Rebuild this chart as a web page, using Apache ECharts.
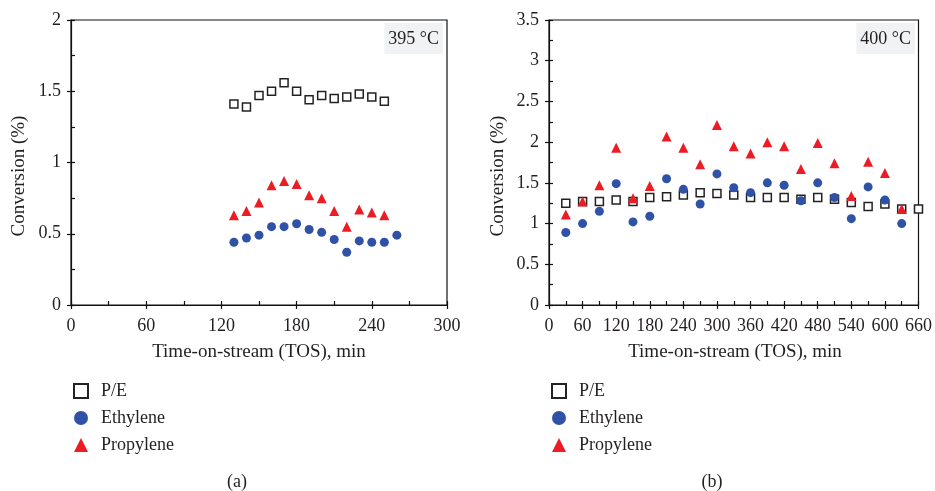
<!DOCTYPE html>
<html>
<head>
<meta charset="utf-8">
<script src="https://cdn.jsdelivr.net/npm/echarts@6/dist/echarts.min.js"></script>
<style>html,body{margin:0;padding:0;background:#fff}#c{width:935px;height:491px}</style>
</head>
<body>
<div id="c"></div>
<script>
// ---- Data: panel (a) 395 °C ----
var tosA_PE = [130,140,150,160,170,180,190,200,210,220,230,240,250];
var peA = [1.41,1.39,1.47,1.50,1.56,1.50,1.44,1.47,1.45,1.46,1.48,1.46,1.43];
var tosA_Eth = [130,140,150,160,170,180,190,200,210,220,230,240,250,260];
var ethA = [0.44,0.47,0.49,0.55,0.55,0.57,0.53,0.51,0.46,0.37,0.45,0.44,0.44,0.49];
var tosA_Pro = [130,140,150,160,170,180,190,200,210,220,230,240,250];
var proA = [0.63,0.66,0.72,0.84,0.87,0.85,0.77,0.75,0.66,0.55,0.67,0.65,0.63];

// ---- Data: panel (b) 400 °C ----
var tosB_PE = [30,60,90,120,150,180,210,240,270,300,330,360,390,420,450,480,510,540,570,600,630,660];
var peB = [1.25,1.27,1.27,1.29,1.27,1.32,1.33,1.35,1.38,1.37,1.35,1.32,1.32,1.32,1.30,1.32,1.30,1.26,1.21,1.24,1.18,1.18];
var tosB_Eth = [30,60,90,120,150,180,210,240,270,300,330,360,390,420,450,480,510,540,570,600,630];
var ethB = [0.89,1.00,1.15,1.49,1.02,1.09,1.55,1.42,1.24,1.61,1.44,1.38,1.50,1.47,1.28,1.50,1.32,1.06,1.45,1.29,1.00];
var tosB_Pro = [30,60,90,120,150,180,210,240,270,300,330,360,390,420,450,480,510,540,570,600,630];
var proB = [1.11,1.27,1.47,1.93,1.31,1.46,2.07,1.93,1.73,2.21,1.95,1.86,2.00,1.95,1.67,1.99,1.74,1.34,1.76,1.62,1.18];

var seriesNames = ['P/E','Ethylene','Propylene'];
var panelLabels = ['(a)','(b)'];
var tempLabels = ['395 °C','400 °C'];
var xTitle = 'Time-on-stream (TOS), min';
var yTitle = 'Conversion (%)';

function pairs(xs, ys){ return ys.map(function(v,i){ return [xs[i], v]; }); }

var FONT = '"Liberation Serif", "DejaVu Serif", serif';
var TXT = '#231f20';
var BLUE = '#2f52a6';
var RED = '#ec1c24';

function labelAxis(gi, min, max, interval, pos){
  return {
    type:'value', gridIndex:gi, position:pos, min:min, max:max, interval:interval,
    axisLine:{show:true, lineStyle:{color:'#111', width:1.2}},
    axisTick:{show:true, inside:false, length:4, lineStyle:{color:'#111', width:1.2}},
    minorTick:{show:false},
    splitLine:{show:false},
    axisLabel:{fontFamily:FONT, fontSize:18, color:TXT, margin:pos === 'bottom' ? 12 : 10}
  };
}
function innerAxis(gi, min, max, interval, pos){
  return {
    type:'value', gridIndex:gi, position:pos, min:min, max:max, interval:interval,
    axisLine:{show:false},
    axisTick:{show:true, inside:true, length:4, lineStyle:{color:'#111', width:1.2}},
    minorTick:{show:true, splitNumber:2, length:4, lineStyle:{color:'#111', width:1.2}},
    splitLine:{show:false}, axisLabel:{show:false}
  };
}

function sq(xi, yi, data, size){
  return {type:'scatter', name:'P/E', xAxisIndex:xi, yAxisIndex:yi, data:data,
    symbol:'rect', symbolSize:size, itemStyle:{color:'#fff', borderColor:'#222', borderWidth:1.5, opacity:1}, z:3};
}
function ci(xi, yi, data, size){
  return {type:'scatter', name:'Ethylene', xAxisIndex:xi, yAxisIndex:yi, data:data,
    symbol:'circle', symbolSize:size, itemStyle:{color:BLUE, opacity:1}, z:4};
}
function tr(xi, yi, data, size){
  return {type:'scatter', name:'Propylene', xAxisIndex:xi, yAxisIndex:yi, data:data,
    symbol:'triangle', symbolSize:size, itemStyle:{color:RED, opacity:1}, z:5};
}

function legendAt(left){
  return {orient:'vertical', left:left, top:377, itemWidth:14, itemHeight:14, itemGap:9,
    data:seriesNames, selectedMode:false,
    textStyle:{fontFamily:FONT, fontSize:18, color:TXT, padding:[0,0,0,8]}};
}

var chart = echarts.init(document.getElementById('c'), null, {renderer:'canvas'});
var option = {
  animation:false,
  backgroundColor:'#fff',
  grid:[
    {left:71, top:20, width:376, height:285, show:true, borderColor:'#111', borderWidth:1.2, backgroundColor:'transparent'},
    {left:549, top:20, width:372, height:285, show:true, borderColor:'#111', borderWidth:1.2, backgroundColor:'transparent'}
  ],
  xAxis:[
    labelAxis(0,0,300,60,'bottom'),
    innerAxis(0,0,300,60,'bottom'),
    labelAxis(1,0,660,60,'bottom'),
    innerAxis(1,0,660,60,'bottom')
  ],
  yAxis:[
    labelAxis(0,0,2,0.5,'left'),
    innerAxis(0,0,2,0.5,'left'),
    labelAxis(1,0,3.5,0.5,'left'),
    innerAxis(1,0,3.5,0.5,'left')
  ],
  legend:[legendAt(68), legendAt(546)],
  title:[
    {text:tempLabels[0], right:492, top:23, padding:[7,4,6,4], backgroundColor:'#f1f2f4',
     textStyle:{fontFamily:FONT, fontSize:18, fontWeight:'normal', color:TXT}},
    {text:tempLabels[1], right:20, top:23, padding:[7,4,6,4], backgroundColor:'#f1f2f4',
     textStyle:{fontFamily:FONT, fontSize:18, fontWeight:'normal', color:TXT}}
  ],
  graphic:[
    {type:'text', x:259, y:352, style:{text:xTitle, fontFamily:FONT, fontSize:19, fill:TXT, align:'center', verticalAlign:'middle'}},
    {type:'text', x:735, y:352, style:{text:xTitle, fontFamily:FONT, fontSize:19, fill:TXT, align:'center', verticalAlign:'middle'}},
    {type:'text', x:19, y:176, rotation:Math.PI/2, style:{text:yTitle, fontFamily:FONT, fontSize:19, fill:TXT, align:'center', verticalAlign:'middle'}},
    {type:'text', x:498, y:176, rotation:Math.PI/2, style:{text:yTitle, fontFamily:FONT, fontSize:19, fill:TXT, align:'center', verticalAlign:'middle'}},
    {type:'text', x:237, y:482, style:{text:panelLabels[0], fontFamily:FONT, fontSize:18, fill:TXT, align:'center', verticalAlign:'middle'}},
    {type:'text', x:712, y:482, style:{text:panelLabels[1], fontFamily:FONT, fontSize:18, fill:TXT, align:'center', verticalAlign:'middle'}}
  ],
  series:[
    sq(0,0,pairs(tosA_PE,peA),8),
    ci(0,0,pairs(tosA_Eth,ethA),9),
    tr(0,0,pairs(tosA_Pro,proA),10),
    sq(2,2,pairs(tosB_PE,peB),8),
    ci(2,2,pairs(tosB_Eth,ethB),9),
    tr(2,2,pairs(tosB_Pro,proB),10)
  ]
};
chart.setOption(option);
</script>
</body>
</html>
